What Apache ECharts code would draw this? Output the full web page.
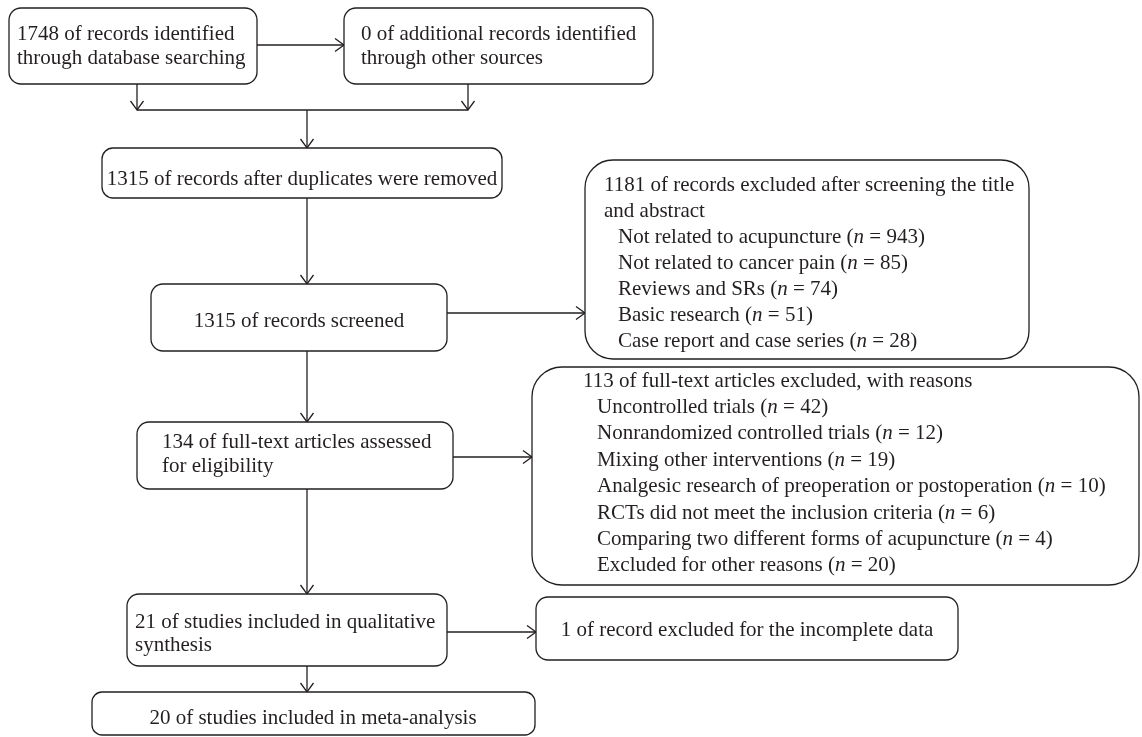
<!DOCTYPE html>
<html><head><meta charset="utf-8">
<script src="https://cdn.jsdelivr.net/npm/echarts@6/dist/echarts.min.js"></script>
<style>html,body{margin:0;padding:0;background:#fff}#c{width:1142px;height:737px}</style>
</head><body><div id="c"></div>
<script>
// ---- data ----
const identifiedDb = 1748;
const otherSources = 0;
const afterDuplicates = 1315;
const screened = 1315;
const excludedScreening = 1181;
const screeningReasons = ['Not related to acupuncture', 'Not related to cancer pain', 'Reviews and SRs', 'Basic research', 'Case report and case series'];
const screeningCounts = [943, 85, 74, 51, 28];
const fullTextAssessed = 134;
const excludedFullText = 113;
const fullTextReasons = ['Uncontrolled trials', 'Nonrandomized controlled trials', 'Mixing other interventions', 'Analgesic research of preoperation or postoperation', 'RCTs did not meet the inclusion criteria', 'Comparing two different forms of acupuncture', 'Excluded for other reasons'];
const fullTextCounts = [42, 12, 19, 10, 6, 4, 20];
const qualitative = 21;
const incompleteData = 1;
const metaAnalysis = 20;

const INK = '#231f20';
const FONT = '"Liberation Serif", "Times New Roman", serif';
const FS = 21;
const item = (r, n) => `${r} ({i|n} = ${n})`;

// ---- layout (positions in a 1142 x 737 coordinate space) ----
const boxes = [
  {x:9, y:8, w:248, h:76, r:12, tx:17, ty:[34,58],
   lines:[`${identifiedDb} of records identified`, 'through database searching']},
  {x:344, y:8, w:309, h:76, r:12, tx:361, ty:[34,58],
   lines:[`${otherSources} of additional records identified`, 'through other sources']},
  {x:102, y:148, w:400, h:50, r:11, center:true, tx:302, ty:[179],
   lines:[`${afterDuplicates} of records after duplicates were removed`]},
  {x:151, y:284, w:296, h:67, r:12, center:true, tx:299, ty:[321],
   lines:[`${screened} of records screened`]},
  {x:585, y:160, w:444, h:199, r:28, tx:604, indent:14, ty:[185,211,237,263,289,315,341], indentFrom:2,
   lines:[`${excludedScreening} of records excluded after screening the title`, 'and abstract']
     .concat(screeningReasons.map((r,i)=>item(r, screeningCounts[i])))},
  {x:137, y:422, w:316, h:67, r:12, tx:162, ty:[442,466],
   lines:[`${fullTextAssessed} of full-text articles assessed`, 'for eligibility']},
  {x:532, y:367, w:607, h:218, r:30, tx:583, indent:14, indentFrom:1,
   ty:[381,407.4,433.8,460.2,486.6,513,539.4,565.8],
   lines:[`${excludedFullText} of full-text articles excluded, with reasons`]
     .concat(fullTextReasons.map((r,i)=>item(r, fullTextCounts[i])))},
  {x:127, y:594, w:320, h:72, r:12, tx:135, ty:[622,645],
   lines:[`${qualitative} of studies included in qualitative`, 'synthesis']},
  {x:536, y:597, w:422, h:63, r:12, center:true, tx:747, ty:[630],
   lines:[`${incompleteData} of record excluded for the incomplete data`]},
  {x:92, y:692, w:443, h:43, r:10, center:true, tx:313, ty:[718],
   lines:[`${metaAnalysis} of studies included in meta-analysis`]}
];

const links = [
  {pts:[[257,45],[344,45]], arrow:true},
  {pts:[[137,84],[137,110]], arrow:true},
  {pts:[[468,84],[468,110]], arrow:true},
  {pts:[[137,110],[468,110]], arrow:false},
  {pts:[[307,110],[307,148]], arrow:true},
  {pts:[[307,198],[307,284]], arrow:true},
  {pts:[[447,313],[585,313]], arrow:true},
  {pts:[[307,351],[307,422]], arrow:true},
  {pts:[[453,457],[532,457]], arrow:true},
  {pts:[[307,489],[307,594]], arrow:true},
  {pts:[[447,632],[536,632]], arrow:true},
  {pts:[[307,666],[307,692]], arrow:true}
];

const richStyle = {i:{fontStyle:'italic', fontSize:FS, fontFamily:FONT, fill:INK}};

function renderBox(params, api) {
  const b = boxes[params.dataIndex];
  const p0 = api.coord([b.x, b.y]);
  const p1 = api.coord([b.x + b.w, b.y + b.h]);
  const children = [{
    type:'rect',
    shape:{x:p0[0], y:p0[1], width:p1[0]-p0[0], height:p1[1]-p0[1], r:b.r},
    style:{fill:'#fff', stroke:INK, lineWidth:1.3}
  }];
  b.lines.forEach((t, k) => {
    const ind = (b.indent && k >= b.indentFrom) ? b.indent : 0;
    const pt = api.coord([b.tx + ind, b.ty[k]]);
    children.push({
      type:'text',
      style:{text:t, x:pt[0], y:pt[1], fill:INK, fontSize:FS, fontFamily:FONT,
        align:b.center ? 'center' : 'left', verticalAlign:'middle', rich:richStyle}
    });
  });
  return {type:'group', children};
}

function renderLink(params, api) {
  const l = links[params.dataIndex];
  const pts = l.pts.map(p => api.coord(p));
  const children = [{type:'polyline', shape:{points:pts}, style:{stroke:INK, lineWidth:1.3, fill:null}}];
  if (l.arrow) {
    const a = pts[pts.length-2], e = pts[pts.length-1];
    const dx = e[0]-a[0], dy = e[1]-a[1];
    const len = Math.hypot(dx, dy);
    const ux = dx/len, uy = dy/len;
    const L = 9, W = 6.5;
    const bx = e[0]-ux*L, by = e[1]-uy*L;
    children.push({type:'polyline',
      shape:{points:[[bx - uy*W, by + ux*W], e, [bx + uy*W, by - ux*W]]},
      style:{stroke:INK, lineWidth:1.3, fill:null}});
  }
  return {type:'group', children};
}

const chart = echarts.init(document.getElementById('c'), null, {renderer:'canvas'});
chart.setOption({
  animation:false,
  backgroundColor:'#ffffff',
  grid:{left:0, right:0, top:0, bottom:0},
  xAxis:{type:'value', min:0, max:1142, show:false},
  yAxis:{type:'value', min:0, max:737, inverse:true, show:false},
  series:[
    {type:'custom', name:'links', renderItem:renderLink, data:links.map((l,i)=>i), clip:false, silent:true, z:1},
    {type:'custom', name:'boxes', renderItem:renderBox, data:boxes.map((b,i)=>i), clip:false, silent:true, z:2}
  ]
});
</script>
</body></html>
